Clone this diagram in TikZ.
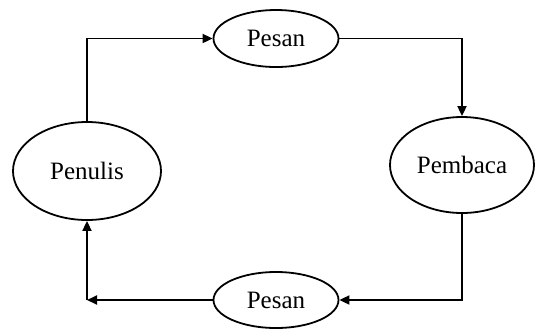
\documentclass[tikz,border=0pt]{standalone}
\usepackage{fontspec}
\setmainfont{Liberation Serif}
\usetikzlibrary{shapes.geometric,arrows.meta}

\begin{document}
\begin{tikzpicture}[x=0.5pt,y=-0.5pt,
  oval/.style={ellipse,draw,line width=0.9pt,inner sep=0pt,
    font=\fontsize{12.5}{15}\selectfont},
  panah/.style={-{Triangle[length=5pt,width=4.5pt]},line width=0.9pt}]
\useasboundingbox (0,0) rectangle (537,329);
% the four ovals
\node[oval,minimum width=74pt,minimum height=49pt] (penulis) at (87,171) {Penulis};
\node[oval,minimum width=72pt,minimum height=48pt] (pembaca) at (462,165) {Pembaca};
\node[oval,minimum width=62.5pt,minimum height=28.5pt] (pesanA) at (276,38.5) {Pesan};
\node[oval,minimum width=62.5pt,minimum height=28pt] (pesanB) at (276,300) {Pesan};
% the cycle
\draw[panah] (penulis.north) |- (pesanA.west);
\draw[panah] (pesanA.east) -| (pembaca.north);
\draw[panah] (pembaca.south) |- (pesanB.east);
\coordinate (sudut) at (penulis.south |- pesanB.west);
\draw[panah] (pesanB.west) -- (sudut);
\draw[panah] (sudut) -- (penulis.south);
\end{tikzpicture}
\end{document}
